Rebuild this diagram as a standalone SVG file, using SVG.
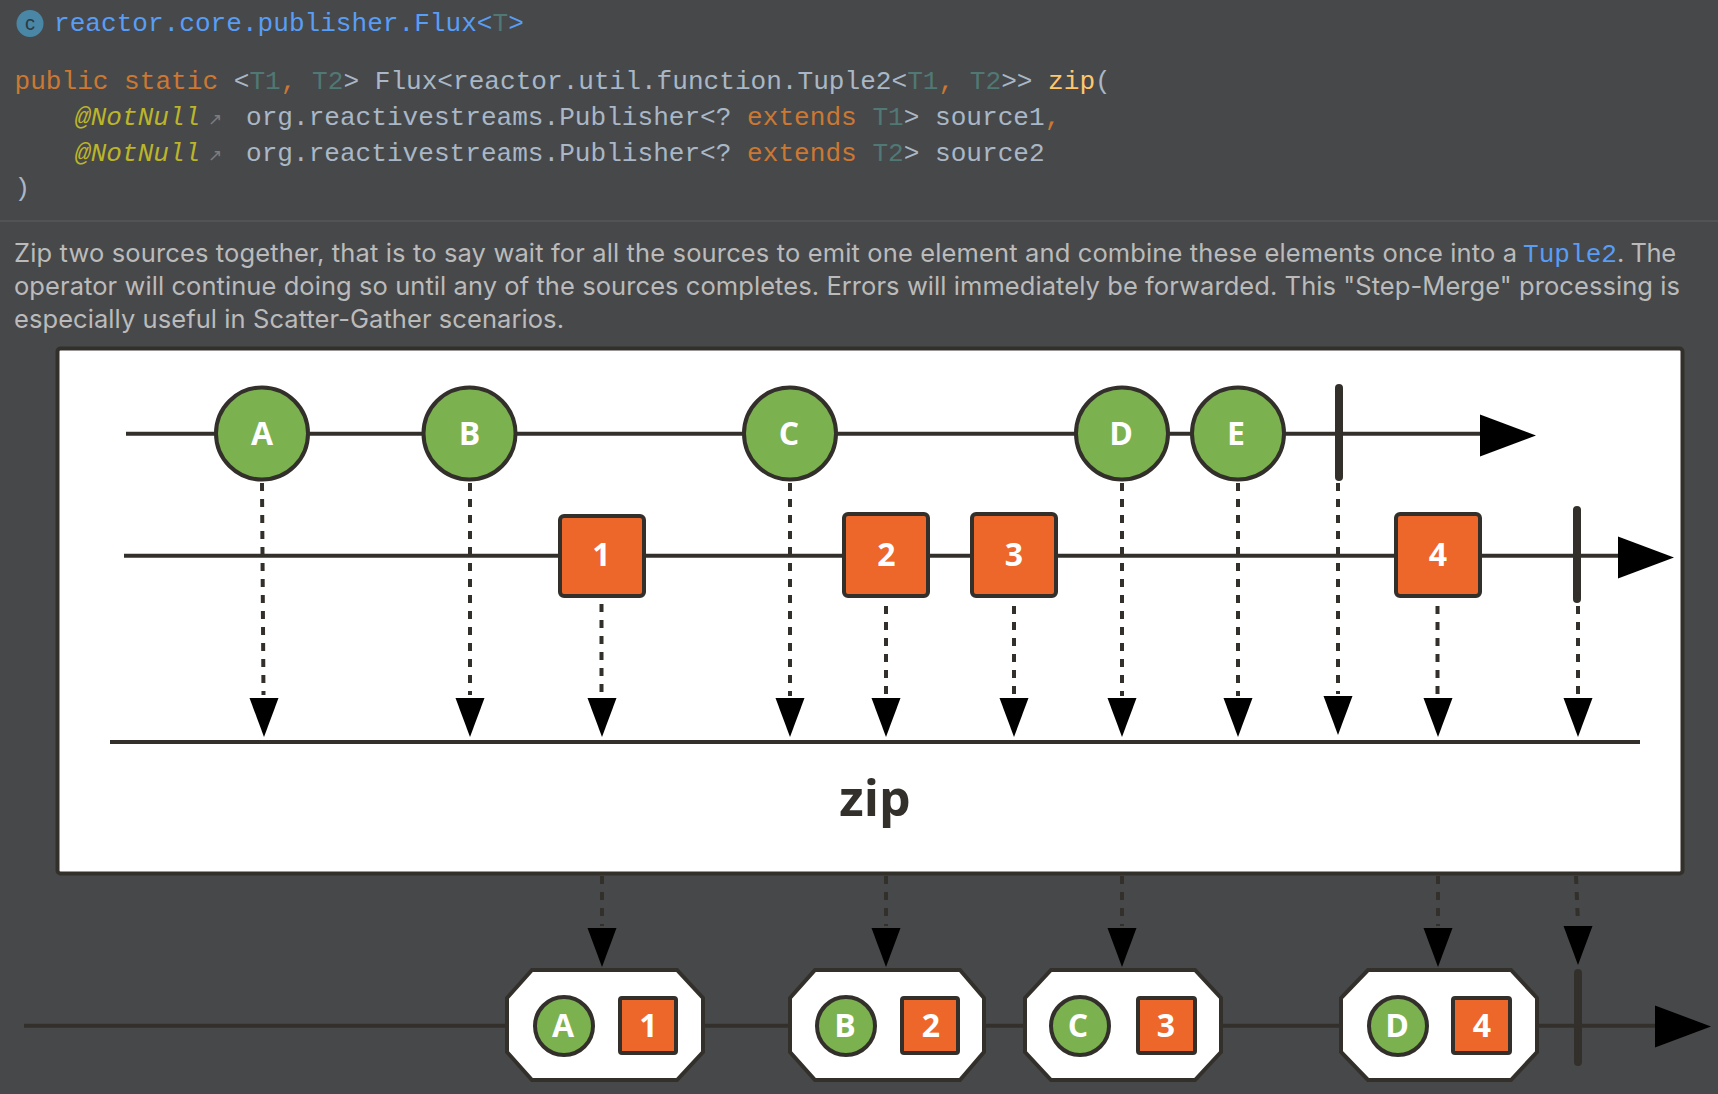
<svg xmlns="http://www.w3.org/2000/svg" width="1718" height="1094" viewBox="0 0 1718 1094">
<style>
.code{font-family:"Liberation Mono","DejaVu Sans Mono",monospace;font-size:26.1px;fill:#a9b7c6}
.k{fill:#cc7832}.t{fill:#507874}.a{fill:#bbb529;font-style:italic}.f{fill:#ffc66d}.l{fill:#589df6}
.body{font-family:Inter,"Liberation Sans",sans-serif;font-size:25.5px;fill:#bbbbbb}
.ln{stroke:#33302c;stroke-width:4;fill:none}
.dash{stroke:#33302c;stroke-width:4;stroke-dasharray:8 8;fill:none}
.term{stroke:#33302c;stroke-width:8;stroke-linecap:round;fill:none}
.c{fill:#7cb14f;stroke:#33302c;stroke-width:4}
.s{fill:#ed662a;stroke:#33302c;stroke-width:4}
.o{fill:#fff;stroke:#33302c;stroke-width:4}
.lb{font-family:"Open Sans","Noto Sans",sans-serif;font-weight:700;font-size:32px;fill:#fff;text-anchor:middle}
</style>
<defs>
<path id="ah" d="M-14.5 0H14.5L0 39Z" fill="#000"/>
<path id="ar" d="M0 -21L56 0L0 21Z" fill="#000"/>
</defs>
<rect width="1718" height="1094" fill="#47484a"/>
<g id="header">
<circle cx="30" cy="23.5" r="13.5" fill="#4a87a6"/>
<text x="30" y="30" font-family="Liberation Sans,sans-serif" font-size="20" fill="#2b3a44" text-anchor="middle">c</text>
<text class="code" x="54" y="31"><tspan class="l">reactor.core.publisher.Flux&lt;</tspan><tspan class="t">T</tspan><tspan class="l">&gt;</tspan></text>
<text class="code" x="14.5" y="89"><tspan class="k">public static</tspan> &lt;<tspan class="t">T1</tspan><tspan class="k">,</tspan> <tspan class="t">T2</tspan>&gt; Flux&lt;reactor.util.function.Tuple2&lt;<tspan class="t">T1</tspan><tspan class="k">,</tspan> <tspan class="t">T2</tspan>&gt;&gt; <tspan class="f">zip</tspan>(</text>
<text class="code a" x="75" y="125">@NotNull</text>
<text x="208" y="125" font-family="DejaVu Sans,sans-serif" font-size="17" fill="#7b7d7f">↗</text>
<text class="code" x="246" y="125">org.reactivestreams.Publisher&lt;? <tspan class="k">extends</tspan> <tspan class="t">T1</tspan>&gt; source1<tspan class="k">,</tspan></text>
<text class="code a" x="75" y="161">@NotNull</text>
<text x="208" y="161" font-family="DejaVu Sans,sans-serif" font-size="17" fill="#7b7d7f">↗</text>
<text class="code" x="246" y="161">org.reactivestreams.Publisher&lt;? <tspan class="k">extends</tspan> <tspan class="t">T2</tspan>&gt; source2</text>
<text class="code" x="14.5" y="196">)</text>
<rect x="0" y="220" width="1718" height="2" fill="#515355"/>
</g>
<g id="description">
<text class="body" x="14" y="262" textLength="1503" lengthAdjust="spacing">Zip two sources together, that is to say wait for all the sources to emit one element and combine these elements once into a</text>
<text class="code l" x="1523" y="262">Tuple2</text>
<text class="body" x="1617" y="262" textLength="59" lengthAdjust="spacing">. The</text>
<text class="body" x="14" y="295" textLength="1666" lengthAdjust="spacing">operator will continue doing so until any of the sources completes. Errors will immediately be forwarded. This "Step-Merge" processing is</text>
<text class="body" x="14" y="328" textLength="550" lengthAdjust="spacing">especially useful in Scatter-Gather scenarios.</text>
</g>
<rect id="operator-box" x="57.5" y="348.5" width="1625" height="525" rx="3" fill="#fff" stroke="#33302c" stroke-width="4"/>
<text id="operator-label" x="875" y="816" font-family="Open Sans,Noto Sans,sans-serif" font-weight="700" font-size="50" fill="#33302c" text-anchor="middle">zip</text>
<g id="connectors">
<path class="ln" d="M126 433.7H1482"/>
<path class="ln" d="M124 555.7H1620"/>
<path class="ln" d="M110 742H1640"/>
<path class="ln" d="M24 1025.7H1658"/>
<path class="dash" d="M262 483L263.5 695"/>
<path class="dash" d="M470 483V695"/>
<path class="dash" d="M601.5 604V694"/>
<path class="dash" d="M790 483V696"/>
<path class="dash" d="M886 606V694"/>
<path class="dash" d="M1014 606V694"/>
<path class="dash" d="M1122 483V696"/>
<path class="dash" d="M1238 483V696"/>
<path class="dash" d="M1338 483V694"/>
<path class="dash" d="M1437.5 606V694"/>
<path class="dash" d="M1578 606V694"/>
<path class="dash" d="M602 876V926"/>
<path class="dash" d="M886 876V926"/>
<path class="dash" d="M1122 876V926"/>
<path class="dash" d="M1438 876V926"/>
<path class="dash" d="M1576 876L1578 924"/>
<use href="#ar" x="1480" y="435.5"/>
<use href="#ar" x="1618" y="557.5"/>
<use href="#ar" x="1655" y="1026.5"/>
<use href="#ah" x="264" y="698"/>
<use href="#ah" x="470" y="698"/>
<use href="#ah" x="602" y="698"/>
<use href="#ah" x="790" y="698"/>
<use href="#ah" x="886" y="698"/>
<use href="#ah" x="1014" y="698"/>
<use href="#ah" x="1122" y="698"/>
<use href="#ah" x="1238" y="698"/>
<use href="#ah" x="1338" y="696"/>
<use href="#ah" x="1438" y="698"/>
<use href="#ah" x="1578" y="698"/>
<use href="#ah" x="602" y="928"/>
<use href="#ah" x="886" y="928"/>
<use href="#ah" x="1122" y="928"/>
<use href="#ah" x="1438" y="928"/>
<use href="#ah" x="1578" y="926"/>
</g>
<g id="node-a"><circle class="c" cx="262" cy="433.5" r="46"/><text class="lb" x="262" y="445">A</text></g>
<g id="node-b"><circle class="c" cx="469.5" cy="433.5" r="46"/><text class="lb" x="469.5" y="445">B</text></g>
<g id="node-c"><circle class="c" cx="790" cy="433.5" r="46"/><text class="lb" x="789" y="445">C</text></g>
<g id="node-d"><circle class="c" cx="1122" cy="433.5" r="46"/><text class="lb" x="1121" y="445">D</text></g>
<g id="node-e"><circle class="c" cx="1238" cy="433.5" r="46"/><text class="lb" x="1236" y="445">E</text></g>
<g id="terminator-1"><path class="term" d="M1339 388V477"/></g>
<g id="node-1"><rect class="s" x="560" y="516" width="84" height="80" rx="4"/><text class="lb" x="601.5" y="566">1</text></g>
<g id="node-2"><rect class="s" x="844" y="514" width="84" height="82" rx="4"/><text class="lb" x="886.5" y="566">2</text></g>
<g id="node-3"><rect class="s" x="972" y="514" width="84" height="82" rx="4"/><text class="lb" x="1014" y="566">3</text></g>
<g id="node-4"><rect class="s" x="1396" y="514" width="84" height="82" rx="4"/><text class="lb" x="1438" y="566">4</text></g>
<g id="terminator-2"><path class="term" d="M1577 510V599"/></g>
<g id="result-a1"><path class="o" d="M532 970H677L703 998V1052L677 1080H532L507 1052V998Z"/><circle class="c" cx="564" cy="1026" r="29"/><text class="lb" x="563" y="1037">A</text><rect class="s" x="620" y="998" width="56" height="55" rx="2"/><text class="lb" x="648.5" y="1037">1</text></g>
<g id="result-b2"><path class="o" d="M815 970H960L984 998V1052L960 1080H815L790 1052V998Z"/><circle class="c" cx="846" cy="1026" r="29"/><text class="lb" x="845" y="1037">B</text><rect class="s" x="902" y="998" width="56" height="55" rx="2"/><text class="lb" x="931" y="1037">2</text></g>
<g id="result-c3"><path class="o" d="M1051 970H1195L1221 998V1052L1195 1080H1051L1025 1052V998Z"/><circle class="c" cx="1080" cy="1026" r="29"/><text class="lb" x="1078" y="1037">C</text><rect class="s" x="1138" y="998" width="57" height="55" rx="2"/><text class="lb" x="1166" y="1037">3</text></g>
<g id="result-d4"><path class="o" d="M1368 970H1511L1537 998V1052L1511 1080H1368L1341 1052V998Z"/><circle class="c" cx="1398" cy="1026" r="29"/><text class="lb" x="1397" y="1037">D</text><rect class="s" x="1453" y="998" width="57" height="55" rx="2"/><text class="lb" x="1482" y="1037">4</text></g>
<g id="terminator-3"><path class="term" d="M1578 973V1062"/></g>
</svg>
